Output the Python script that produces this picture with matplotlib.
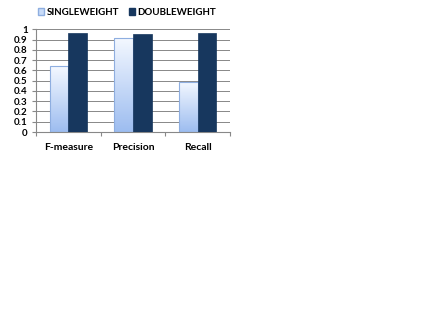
import numpy as np
import matplotlib.pyplot as plt
from matplotlib.patches import Patch
from matplotlib.colors import LinearSegmentedColormap

categories = ['F-measure', 'Precision', 'Recall']
single = [0.64, 0.92, 0.49]
double = [0.96, 0.95, 0.96]
yticks = [0, 0.1, 0.2, 0.3, 0.4, 0.5, 0.6, 0.7, 0.8, 0.9, 1]
ytick_labels = ['0', '0.1', '0.2', '0.3', '0.4', '0.5', '0.6', '0.7', '0.8', '0.9', '1']

plt.rcParams['font.family'] = ['Lato', 'DejaVu Sans']

fig = plt.figure(figsize=(4.36, 3.27), dpi=100)
ax = fig.add_axes([0.0826, 0.5963, 0.445, 0.314])

x = np.arange(len(categories))
w = 0.29
grad = LinearSegmentedColormap.from_list('g', ['#9dbdf0', '#f4f8ff'])

bars1 = ax.bar(x - w / 2, single, w, color='none', edgecolor='#8eaee0', linewidth=0.8, zorder=3)
for b in bars1:
    bx, by = b.get_x(), b.get_y()
    bw, bh = b.get_width(), b.get_height()
    img = ax.imshow(np.linspace(0, 1, 100).reshape(-1, 1), cmap=grad, origin='lower',
                    extent=[bx, bx + bw, by, by + bh], aspect='auto', zorder=2)
    img.set_clip_path(b)
bars2 = ax.bar(x + w / 2, double, w, color='#17375e', edgecolor='#17375e', linewidth=0.5, zorder=3)

ax.set_xlim(-0.5, 2.5)
ax.set_ylim(0, 1)
ax.set_yticks(yticks)
ax.set_yticklabels(ytick_labels, fontsize=7, fontweight='bold')
ax.set_xticks([-0.5, 0.5, 1.5, 2.5])
ax.set_xticklabels([])
ax.set_xticks(x, minor=True)
ax.set_xticklabels(categories, minor=True, fontsize=7.5, fontweight='bold')
ax.tick_params(axis='x', which='minor', length=0, pad=8)
ax.tick_params(axis='x', which='major', length=3, color='#888888')
ax.tick_params(axis='y', length=3, color='#888888', pad=3)
ax.grid(axis='y', color='#888888', linewidth=0.7, zorder=0)
for s in ['top', 'right']:
    ax.spines[s].set_visible(False)
for s in ['left', 'bottom']:
    ax.spines[s].set_color('#888888')
    ax.spines[s].set_linewidth(0.8)

handles = [Patch(facecolor='#c8dbf8', edgecolor='#8eaee0', label='SINGLEWEIGHT'),
           Patch(facecolor='#17375e', edgecolor='#17375e', label='DOUBLEWEIGHT')]
fig.legend(handles=handles, ncol=2, loc='center left', bbox_to_anchor=(0.0865, 0.962),
           frameon=False, borderpad=0, borderaxespad=0,
           prop={'size': 7, 'weight': 'bold'}, handlelength=0.65,
           handleheight=0.75, handletextpad=0.25, columnspacing=1.0)

fig.savefig('out.png', dpi=100)
